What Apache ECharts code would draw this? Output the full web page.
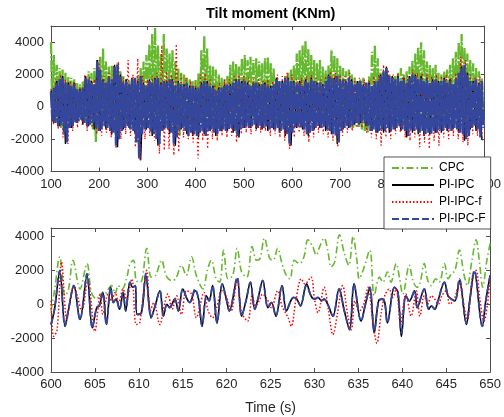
<!DOCTYPE html>
<html><head><meta charset="utf-8">
<script src="https://cdn.jsdelivr.net/npm/echarts@6/dist/echarts.min.js"></script>
<style>html,body{margin:0;padding:0;background:#fff}#c{width:504px;height:417px}</style>
</head><body><div id="c"></div>
<script>
const seriesNames = ['CPC', 'PI-IPC', 'PI-IPC-f', 'PI-IPC-F'];
const titleText = 'Tilt moment (KNm)';
const xName = 'Time (s)';

// ---------- Top panel (100-1000 s): upper / lower extremes of each signal ----------
// CPC: highs at t = 100 + 6k, lows at t = 103 + 6k
const topCpcHi = [
  4000,3200,2600,2400,2300,2100, 1900,1800,1700,1500,1400,1600,
  1700,2200,2100,2400,2900,3100, 3600,2800,2500,2600,2400,2700,
  2200,1900,1700,1600,1400,1700, 1900,2400,2800,3200,3900,4500,
  4900,3800,3300,4500,3600,3300, 3500,2800,2400,2100,2000,1800,
  1700,1600,1700,2100,3500,4400, 3600,2600,2500,2300,2000,1800,
  1700,1900,2600,2800,2700,2500, 3000,3200,2900,3100,2900,3000,
  2800,2700,3000,3100,2700,2400, 1800,1500,1600,1900,2100,2300,
  2600,3300,3500,3800,4100,3600, 3200,2900,2700,2900,2500,2300,
  2600,3500,3200,3000,2600,2400, 2200,2300,2000,1800,1600,1700,
  1800,1500,1900,3400,3800,3000, 2300,2100,2300,2000,1800,1900,
  2100,2400,2000,2200,2500,2900, 3300,3700,4000,3500,2800,2600,
  2400,2600,2100,2000,2200,2300, 2600,3000,3400,4000,4500,3700,
  3300,2900,2700,2400,2200,1800];
const topCpcLo = [
  -600,-900,-1100,-1300,-1200,-900, -1000,-800,-900,-700,-800,-900,
  -1000,-900,-1400,-2200,-1300,-1000, -900,-1100,-1200,-1000,-1400,-1300,
  -1000,-900,-1000,-1100,-1000,-1300, -1200,-1000,-800,-700,-600,-500,
  -800,-1200,-1000,-900,-1100,-1300, -1400,-1700,-1800,-1200,-1000,-900,
  -1000,-1100,-1000,-900,-700,-800, -900,-1000,-1100,-1000,-900,-1000,
  -1100,-1000,-900,-800,-1000,-900, -700,-600,-800,-700,-800,-600,
  -700,-900,-800,-900,-1000,-1100, -1200,-1100,-1000,-1200,-1300,-1000,
  -800,-600,-500,-400,-500,-700, -800,-900,-800,-900,-1000,-900,
  -800,-700,-900,-1000,-1100,-1000, -1100,-1200,-1300,-1200,-1300,-1400,
  -1500,-1600,-1200,-900,-800,-900, -1000,-1100,-1000,-1100,-1200,-1100,
  -1000,-900,-1000,-900,-800,-700, -500,-400,-600,-800,-900,-1000,
  -1100,-1000,-1100,-1000,-900,-800, -700,-600,-500,-400,-600,-800,
  -900,-1000,-1100,-1200,-1000,-1100];

// PI-IPC: highs at t = 100 + 12k, lows at t = 106 + 12k
const topPiHi = [
  1000,1600,1900,1500,1500, 1100,1900,1600,2900,1700, 1900,2600,2000,1700,1800,
  1600,1500,1700,1800,1500, 1600,1700,1600,1400,1300, 1200,1500,1600,1300,1200,
  1400,1400,1700,1600,1500, 1500,1400,1500,1300,1800, 1600,1800,1600,1600,1700,
  1800,1500,1400,2000,1800, 1700,1600,1700,1600,1400, 1500,1600,2000,2500,1900,
  1900,1800,1900,2000,1900, 1800,1700,1600,1800,1700, 1800,2500,2100,1600,1500];
const topPiLo = [
  -1000,-1200,-2300,-1300,-1000, -1100,-1200,-1400,-1500,-1400, -1700,-2500,-1400,-1300,-1600,
  -3300,-1400,-1800,-2400,-1400, -1700,-2400,-1400,-1700,-1800, -1900,-1700,-1500,-1800,-1500,
  -1500,-1600,-1900,-1300,-1300, -1400,-1400,-1500,-1400,-1600, -1800,-2400,-1300,-1400,-1800,
  -1400,-1300,-1500,-1700,-2300, -1400,-1300,-1100,-1000,-1200, -1500,-1600,-1600,-1600,-1400,
  -1500,-1900,-1600,-1700,-1800, -1700,-1600,-1600,-1500,-1400, -1600,-2100,-1400,-1500,-2000];

// PI-IPC-f: highs at t = 100 + 10k, lows at t = 105 + 10k
const topPifHi = [
  1100,1700,2000,1700,1600,1500,1200,2000,1900,1700,
  2900,1900,2100,2600,2800,1800,2900,2000,3000,2000,
  1700,1900,2100,3800,2200,2000,3900,2000,1800,1600,
  1500,2000,2200,1700,1400,1500,1700,1700,1900,2000,
  1900,1800,1700,1700,1600,1700,1600,2000,1900,2100,
  2000,1700,1800,1900,2000,1800,1700,1900,2200,2100,
  2000,1900,2100,1800,1800,1700,1700,1900,2000,2600,
  2300,2000,2100,2000,1900,2300,2100,2100,2000,1900,
  2000,1900,2000,1800,2100,3100,2900,2000,1800,1900];
const topPifLo = [
  -1100,-1400,-1900,-2300,-1500,-1300,-1100,-1500,-1300,-1700,
  -1800,-1600,-1900,-2600,-2000,-1700,-1800,-2500,-3300,-2000,
  -1800,-2100,-2900,-2700,-2600,-3000,-2800,-1900,-2000,-2200,
  -3200,-2100,-2600,-2000,-2100,-1800,-1900,-1800,-2200,-1700,
  -1600,-1700,-1500,-1600,-1500,-1800,-1700,-1900,-2100,-2600,
  -1900,-1600,-1800,-2200,-1900,-1600,-1700,-1900,-2100,-2500,
  -1800,-1600,-1500,-1300,-1300,-1600,-1900,-2000,-2400,-1900,
  -2000,-1700,-1600,-1900,-2100,-1900,-2500,-2200,-2600,-2100,
  -2400,-1900,-2000,-1800,-2000,-2200,-2400,-1700,-1800,-2100];

// PI-IPC-F: highs at t = 100 + 6k, lows at t = 103 + 6k
const topPiFHi = [
  900,1200,1500,1700,1800,1500, 1400,1300,1400,1100,1000,1200,
  1800,1700,1500,1400,2800,2300, 1600,1500,1800,1700,2500,2600,
  1900,1500,1600,1400,1700,1800, 1500,1900,1400,1300,1600,1500,
  1700,1800,1400,1600,1500,1700, 1600,1300,1500,1400,1300,1500,
  1200,1300,1100,1200,1400,1600, 1500,1300,1200,1000,1100,1200,
  1300,1400,1300,1500,1600,1700, 1500,1600,1400,1300,1400,1500,
  1300,1400,1400,1300,1200,1400, 1700,1600,1500,1800,1700,1600,
  1500,1400,1500,1300,1600,1500, 1700,1600,1400,1500,1300,1600,
  1900,1800,1700,1900,1600,1700, 1500,1800,1600,1400,1500,1600,
  1300,1500,1400,1300,1500,1600, 1900,2200,2400,1900,1800,1700,
  1800,1600,1700,1500,1800,2000, 1900,1700,1800,1600,1700,1500,
  1600,1700,1500,1600,1700,1500, 1600,1400,1700,2100,2400,2600,
  2000,1600,1500,1700,1400,1600];
const topPiFLo = [
  -900,-1000,-1200,-1100,-1600,-2200, -1300,-1200,-1000,-900,-800,-1000,
  -1200,-1100,-1000,-1300,-1500,-1400, -1200,-1300,-1500,-1600,-2400,-2000,
  -1500,-1300,-1200,-1400,-1500,-2200, -3200,-1700,-1400,-1300,-1500,-1700,
  -2000,-2300,-1500,-1300,-1400,-1600, -2300,-1900,-1400,-1300,-1500,-1800,
  -1600,-1700,-1800,-1600,-1500,-1800, -1500,-1400,-1600,-1700,-1500,-1400,
  -1500,-1400,-1300,-1500,-1800,-1400, -1300,-1200,-1300,-1200,-1100,-1300,
  -1200,-1300,-1200,-1400,-1300,-1400, -1300,-1500,-1400,-1700,-2300,-1600,
  -1300,-1200,-1300,-1400,-1700,-1600, -1500,-1300,-1200,-1300,-1200,-1400,
  -1500,-1700,-1800,-2200,-1500,-1300, -1200,-1300,-1100,-1000,-1100,-900,
  -1000,-1200,-1500,-1400,-1600,-1500, -1400,-1500,-1300,-1500,-1400,-1300,
  -1200,-1400,-1500,-1800,-1400,-1500, -1400,-1600,-1500,-1700,-1600,-1700,
  -1500,-1600,-1400,-1500,-1300,-1400, -1500,-1300,-1400,-1600,-1700,-2000,
  -1800,-1300,-1200,-1400,-1900,-1300];

// ---------- Bottom panel (600-650 s): turning points of each signal ----------
const botCpcT = [
  600.0,600.4,601.0,601.6,602.0,602.5,603.3,604.1,604.6,605.2,
  605.6,606.0,606.3,606.9,607.3,607.65,608.1,608.6,609.0,609.4,
  609.7,610.2,610.9,611.4,611.9,612.6,613.1,613.7,614.2,614.85,
  615.4,616.0,616.55,617.3,617.8,618.25,618.8,619.2,619.65,620.15,
  620.7,621.2,621.7,622.3,622.9,623.4,623.8,624.3,624.9,625.3,
  625.8,626.3,626.8,627.2,627.7,628.3,628.8,629.25,629.8,630.2,
  630.6,631.1,631.5,631.9,632.3,632.85,633.4,633.9,634.4,634.8,
  635.1,635.6,636.3,636.8,637.4,637.8,638.3,638.7,639.3,639.7,
  640.05,640.8,641.2,641.7,642.0,642.5,642.9,643.3,643.8,644.2,
  644.8,645.2,645.6,646.0,646.5,647.0,647.4,647.9,648.4,648.8,
  649.15,649.6,650.0];
const botCpcV = [
  -400,800,2800,500,900,2600,900,2400,700,300,
  600,400,700,1100,600,1100,900,1500,2400,2600,
  1400,1300,3300,1600,1700,2600,1700,1400,1500,2300,
  1700,2800,1700,900,2000,2600,1500,1300,3200,1500,
  1700,3300,1900,1600,3400,2600,2700,3900,2700,2600,
  3300,2400,1700,1500,2600,2400,2800,3800,3400,2900,
  3400,3900,3200,2200,2500,4100,3000,2300,4000,2700,
  1500,2100,3200,500,1600,1300,1900,1300,2400,1500,
  600,2300,1400,1000,1200,2400,1400,1100,1500,1300,
  2400,1500,1800,2000,3200,1800,1100,2500,3800,2400,
  1000,2500,3600];

const botIpcT = [
  600.0,600.4,601.0,601.6,602.0,602.6,603.3,604.1,604.7,605.2,
  605.5,605.9,606.3,606.8,607.1,607.4,607.8,608.2,608.5,609.0,
  609.3,609.6,609.8,610.3,610.8,611.4,611.8,612.4,612.8,613.2,
  613.5,614.1,614.5,615.0,615.5,615.8,616.4,616.8,617.2,617.7,
  618.0,618.4,618.9,619.5,620.0,620.3,621.2,621.7,622.2,622.7,
  623.2,623.6,624.1,624.7,625.1,625.6,626.3,626.8,627.3,627.6,
  628.0,628.4,629.1,629.6,630.0,630.4,630.8,631.1,631.5,632.1,
  632.8,633.4,634.0,634.5,635.3,635.8,636.3,636.8,637.3,637.7,
  638.0,638.3,639.1,639.5,639.9,640.4,640.8,641.4,641.7,642.5,
  643.0,643.3,643.7,644.0,644.8,645.2,645.6,646.0,646.5,647.3,
  647.7,648.2,649.1,649.5,650.0];
const botPiV = [
  -1200,-300,1900,-1300,-300,1100,-900,1700,-1400,-200,
  -100,700,-1200,1000,100,300,-300,700,-400,1300,
  1000,1100,-600,-500,1700,-800,-200,800,-700,0,
  -200,300,-400,900,300,100,800,300,-1300,500,
  200,1100,-1100,1200,200,-400,1500,-700,200,1300,
  -300,400,1400,-200,100,-700,1100,-400,200,400,
  300,-100,1200,500,300,400,200,300,0,-700,
  900,-400,-1500,1200,-1000,0,1000,-1700,200,300,
  100,-1100,1000,700,-1900,500,200,800,-200,900,
  -300,-100,-300,100,1300,500,300,200,1400,-1200,
  300,1900,-1300,200,1700];
const botPiFV = [
  -1200,-300,2000,-1300,-300,1100,-900,1800,-1400,-200,
  -100,700,-1200,1000,100,300,-300,700,-400,1300,
  1000,1100,-600,-500,1800,-800,-200,800,-700,0,
  -200,300,-400,900,300,100,900,300,-1300,500,
  200,1100,-1100,1200,200,-400,1600,-700,200,1300,
  -300,400,1400,-200,100,-700,1100,-400,200,400,
  300,-100,1100,500,300,400,200,300,0,-700,
  900,-400,-1500,1200,-1000,0,1000,-1600,200,300,
  100,-1100,1000,700,-1700,500,200,800,-200,900,
  -300,-100,-300,100,1300,500,300,200,1500,-1100,
  300,2000,-1300,200,1700];

const botPifT = [
  600.0,600.3,600.7,601.2,601.8,602.2,602.6,603.0,603.5,604.2,
  605.0,605.6,605.9,606.5,606.9,607.3,607.7,608.2,608.6,609.2,
  609.7,610.1,610.9,611.3,611.7,612.4,612.8,613.3,613.8,614.3,
  614.85,615.4,616.0,616.55,617.0,617.4,617.9,618.4,618.8,619.5,
  620.0,620.5,621.2,621.7,622.4,622.9,623.3,623.7,624.1,624.6,
  625.1,625.8,626.3,627.0,627.35,627.9,628.5,628.9,629.6,630.0,
  630.4,631.1,631.6,632.1,632.6,633.2,633.8,634.2,634.6,635.1,
  635.6,636.1,636.6,637.1,637.6,638.0,638.5,638.9,639.3,639.8,
  640.4,641.0,641.6,642.0,642.5,642.9,643.3,643.7,644.1,644.5,
  645.0,645.4,645.9,646.5,646.9,647.4,648.0,648.4,648.8,649.3,
  649.7,650.0];
const botPifV = [
  200,-1900,-1500,2500,-900,300,1100,500,-400,1400,
  -1600,600,-600,600,200,700,100,900,300,1500,
  -1200,-1100,2000,-400,100,-1200,-300,600,-300,500,
  -600,800,600,-800,0,700,-400,-800,-300,800,
  400,-400,1400,-500,-1000,500,-100,200,600,300,
  -200,800,-100,-800,-1300,300,1500,1200,1600,300,
  -500,1000,-400,-1800,-600,1100,-700,-1500,200,-400,
  0,1000,-800,-2300,-500,500,900,400,900,-1100,
  600,-700,800,-700,500,0,500,300,0,500,
  800,0,300,1200,200,-900,1700,2000,400,-1000,
  0,1700];

// ---------- build data tables ----------
function zigzag(t0, step, hi, lo) {
  const out = [];
  for (let i = 0; i < hi.length; i++) {
    out.push([t0 + i * step, hi[i]]);
    if (i < lo.length) out.push([t0 + i * step + step / 2, lo[i]]);
  }
  return out;
}
function pairs(ts, vs) { return ts.map((t, i) => [t, vs[i]]); }

const C_GREEN = '#66b82e', C_BLACK = '#000000', C_RED = '#ff0000', C_BLUE = '#35479c';
const DASHDOT = [7, 3, 1.5, 3], DOT = [1.5, 2], DASH = [7, 3];
const FONT = 'Liberation Sans, Arial, sans-serif';
const AX = '#4d4d4d';

function line(name, xi, yi, data, color, type, width, smooth) {
  return {
    name, type: 'line', xAxisIndex: xi, yAxisIndex: yi, data,
    showSymbol: false, symbol: 'none', smooth: smooth || false,
    lineStyle: { color, type, width }, itemStyle: { color },
    animation: false, silent: true, clip: true
  };
}

const fmt = v => (v % 2000 === 0 ? String(v) : '');
function xAx(grid, min, max, interval, pos, showLabel, extra) {
  return Object.assign({
    type: 'value', gridIndex: grid, min, max, interval, position: pos,
    axisLine: { show: true, onZero: false, lineStyle: { color: AX, width: 1 } },
    axisTick: { show: true, inside: true, length: 4, lineStyle: { color: AX } },
    axisLabel: { show: showLabel, color: '#262626', fontSize: 13, fontFamily: FONT, margin: 6 },
    splitLine: { show: false }
  }, extra || {});
}
function yAx(grid, min, max, pos, showLabel) {
  return {
    type: 'value', gridIndex: grid, min, max, interval: 2000, position: pos,
    axisLine: { show: true, onZero: false, lineStyle: { color: AX, width: 1 } },
    axisTick: { show: true, inside: true, length: 4, lineStyle: { color: AX } },
    axisLabel: { show: showLabel, color: '#262626', fontSize: 13, fontFamily: FONT, margin: 7, formatter: fmt },
    splitLine: { show: false }
  };
}

const chart = echarts.init(document.getElementById('c'), null, { renderer: 'canvas' });
chart.setOption({
  animation: false,
  backgroundColor: '#fff',
  title: {
    text: titleText, left: 206, top: 6, padding: 0,
    textStyle: { fontSize: 14.5, fontWeight: 'bold', color: '#000', fontFamily: FONT }
  },
  legend: {
    orient: 'vertical', left: 384, top: 157, data: seriesNames,
    backgroundColor: '#fff', borderColor: '#262626', borderWidth: 0.8, borderRadius: 0,
    padding: [5, 5, 4, 7], itemGap: 5, itemWidth: 42, itemHeight: 12,
    itemStyle: { opacity: 0, borderWidth: 0 },
    textStyle: { fontSize: 12, color: '#000', fontFamily: FONT }, z: 10
  },
  grid: [
    { left: 51, top: 26, width: 440, height: 145.5 },
    { left: 51, top: 228, width: 440, height: 144 }
  ],
  xAxis: [
    xAx(0, 100, 1000, 100, 'bottom', true),
    xAx(0, 100, 1000, 100, 'top', false),
    xAx(1, 600, 650, 5, 'bottom', true, {
      name: xName, nameLocation: 'middle', nameGap: 29,
      nameTextStyle: { fontSize: 14, color: '#262626', fontFamily: FONT }
    }),
    xAx(1, 600, 650, 5, 'top', false)
  ],
  yAxis: [
    yAx(0, -4000, 5000, 'left', true),
    yAx(0, -4000, 5000, 'right', false),
    yAx(1, -4000, 4500, 'left', true),
    yAx(1, -4000, 4500, 'right', false)
  ],
  series: [
    // bottom panel first (legend takes its icon style from these)
    line(seriesNames[0], 2, 2, pairs(botCpcT, botCpcV), C_GREEN, DASHDOT, 1.6, 0.35),
    line(seriesNames[1], 2, 2, pairs(botIpcT, botPiV), C_BLACK, 'solid', 1.6, 0.35),
    line(seriesNames[2], 2, 2, pairs(botPifT, botPifV), C_RED, DOT, 1.5, 0.35),
    line(seriesNames[3], 2, 2, pairs(botIpcT, botPiFV), C_BLUE, DASH, 1.8, 0.35),
    // top panel: dense signals
    line(seriesNames[0], 0, 0, zigzag(100, 6, topCpcHi, topCpcLo), C_GREEN, [12, 2, 2, 2], 2.3),
    line(seriesNames[1], 0, 0, zigzag(100, 12, topPiHi, topPiLo), C_BLACK, 'solid', 1.4),
    line(seriesNames[2], 0, 0, zigzag(100, 10, topPifHi, topPifLo), C_RED, [1.5, 2.5], 1.3),
    line(seriesNames[3], 0, 0, zigzag(100, 6, topPiFHi, topPiFLo), C_BLUE, [16, 1.5], 2.5)
  ]
});
</script>
</body></html>
